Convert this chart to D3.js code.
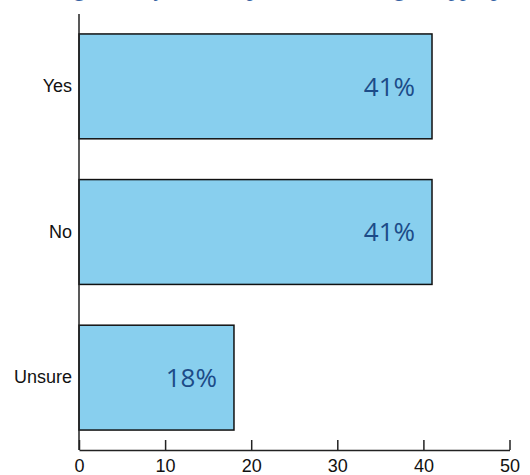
<!DOCTYPE html>
<html>
<head>
<meta charset="utf-8">
<script src="https://cdn.jsdelivr.net/npm/d3@7"></script>
<style>
  html, body { margin: 0; padding: 0; background: #fff; }
  svg { display: block; }
</style>
</head>
<body>
<svg id="chart" width="530" height="475"></svg>
<script>
// Survey answers and their shares (percent)
const categories = ["Yes", "No", "Unsure"];
const shares = [41, 41, 18];
const xTicks = [0, 10, 20, 30, 40, 50];
const titleText = "Again, do you think parents are doing an appropriate job?";

const W = 530, H = 475;
const margin = { top: 14, right: 20.5, bottom: 25, left: 79 };
const svg = d3.select("#chart");

const x = d3.scaleLinear()
  .domain([0, 50])
  .range([margin.left, W - margin.right]);

const y = d3.scaleBand()
  .domain(categories)
  .range([margin.top, H - margin.bottom])
  .paddingInner(0.28)
  .paddingOuter(0.137);

// Title sits above the plot, mostly outside the visible area
svg.append("text")
  .attr("x", 57)
  .attr("y", -4)
  .attr("font-family", "'Liberation Serif', serif")
  .attr("font-size", 23)
  .attr("fill", "#3563a3")
  .text(titleText);

// Bars
svg.append("g")
  .selectAll("rect")
  .data(categories)
  .join("rect")
  .attr("x", x(0))
  .attr("y", d => y(d))
  .attr("width", (d, i) => x(shares[i]) - x(0))
  .attr("height", y.bandwidth())
  .attr("fill", "#88cfee")
  .attr("stroke", "#111")
  .attr("stroke-width", 1.5);

// Value labels inside the bars
svg.append("g")
  .selectAll("text")
  .data(categories)
  .join("text")
  .attr("x", (d, i) => x(shares[i]) - 17)
  .attr("y", d => y(d) + y.bandwidth() / 2)
  .attr("dy", "0.36em")
  .attr("text-anchor", "end")
  .attr("font-family", "'Open Sans', sans-serif")
  .attr("font-size", 26)
  .attr("fill", "#1c4b88")
  .text((d, i) => d3.format("d")(shares[i]) + "%");

// X axis with upward ticks
const xAxis = svg.append("g")
  .attr("transform", `translate(0,${H - margin.bottom})`)
  .call(d3.axisBottom(x)
    .tickValues(xTicks)
    .tickSizeInner(-10)
    .tickSizeOuter(0)
    .tickPadding(9)
    .tickFormat(d3.format("d")));
xAxis.selectAll("path, line").attr("stroke", "#222").attr("stroke-width", 1.5);
xAxis.selectAll("text")
  .attr("font-family", "'Liberation Sans', Arial, sans-serif")
  .attr("font-size", 18)
  .attr("fill", "#111");

// Y axis: line and category names only
const yAxis = svg.append("g")
  .attr("transform", `translate(${margin.left},0)`)
  .call(d3.axisLeft(y).tickSize(0).tickPadding(7));
yAxis.select(".domain")
  .attr("d", `M0,${margin.top}V${H - margin.bottom}`)
  .attr("stroke", "#222").attr("stroke-width", 1.5);
yAxis.selectAll("text")
  .attr("font-family", "'Liberation Sans', Arial, sans-serif")
  .attr("font-size", 18)
  .attr("fill", "#111");
</script>
</body>
</html>
